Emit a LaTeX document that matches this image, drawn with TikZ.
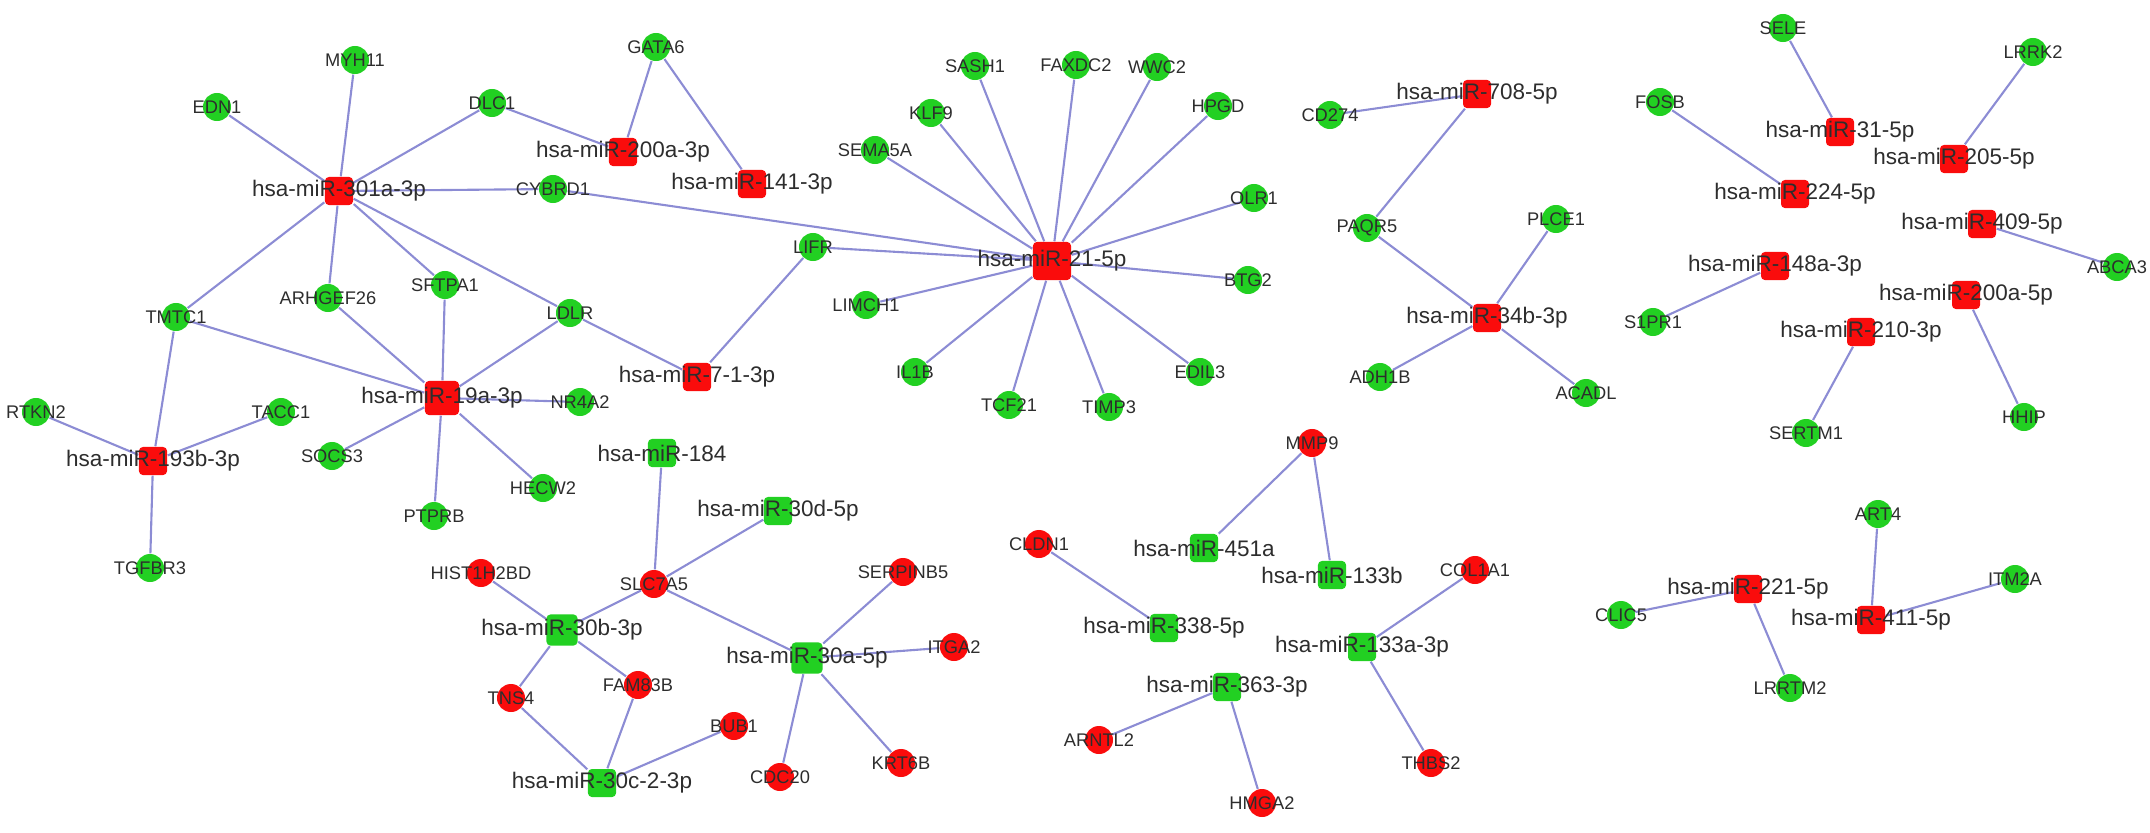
\documentclass[tikz,border=0pt]{standalone}
\usepackage{fontspec}
\setmainfont{Liberation Sans}
\usepackage{tikz}
\usetikzlibrary{backgrounds}
\newcommand*{\nm}[1]{\makebox[0pt]{#1}}
\definecolor{genegreen}{RGB}{34,208,34}
\definecolor{mirred}{RGB}{250,12,12}
\definecolor{linkblue}{RGB}{140,140,212}
\definecolor{labelgray}{RGB}{45,45,45}

\begin{document}
\begin{tikzpicture}[x=0.01cm, y=-0.01cm]
	\tikzstyle{downgene}=[circle, fill=genegreen, minimum size=2.8mm, inner sep=0pt,
	text=labelgray, font=\fontsize{5.2}{6}\selectfont]
	\tikzstyle{upgene}=[downgene, fill=mirred]
	\tikzstyle{upmir}=[rectangle, rounded corners=1.1pt, fill=mirred, minimum size=2.8mm, inner sep=0pt,
	text=labelgray, font=\fontsize{6.4}{7.5}\selectfont]
	\tikzstyle{downmir}=[upmir, fill=genegreen]
	\tikzstyle{link}=[-, line width=0.6pt, draw=linkblue]
	\useasboundingbox (0,0) rectangle (2150,833);

	% down-regulated genes
	\node (EDN1) [downgene] at (217,107) {\nm{EDN1}};
	\node (MYH11) [downgene] at (355,60) {\nm{MYH11}};
	\node (DLC1) [downgene] at (492,103) {\nm{DLC1}};
	\node (CYBRD1) [downgene] at (553,189) {\nm{CYBRD1}};
	\node (ARHGEF26) [downgene] at (328,298) {\nm{ARHGEF26}};
	\node (SFTPA1) [downgene] at (445,285) {\nm{SFTPA1}};
	\node (TMTC1) [downgene] at (176,317) {\nm{TMTC1}};
	\node (LDLR) [downgene] at (570,313) {\nm{LDLR}};
	\node (RTKN2) [downgene] at (36,412) {\nm{RTKN2}};
	\node (TACC1) [downgene] at (281,412) {\nm{TACC1}};
	\node (NR4A2) [downgene] at (580,402) {\nm{NR4A2}};
	\node (SOCS3) [downgene] at (332,456) {\nm{SOCS3}};
	\node (PTPRB) [downgene] at (434,516) {\nm{PTPRB}};
	\node (HECW2) [downgene] at (543,488) {\nm{HECW2}};
	\node (TGFBR3) [downgene] at (150,568) {\nm{TGFBR3}};
	\node (GATA6) [downgene] at (656,47) {\nm{GATA6}};
	\node (SASH1) [downgene] at (975,66) {\nm{SASH1}};
	\node (FAXDC2) [downgene] at (1076,65) {\nm{FAXDC2}};
	\node (KLF9) [downgene] at (931,113) {\nm{KLF9}};
	\node (SEMA5A) [downgene] at (875,150) {\nm{SEMA5A}};
	\node (LIFR) [downgene] at (813,247) {\nm{LIFR}};
	\node (LIMCH1) [downgene] at (866,305) {\nm{LIMCH1}};
	\node (IL1B) [downgene] at (915,372) {\nm{IL1B}};
	\node (TCF21) [downgene] at (1009,405) {\nm{TCF21}};
	\node (TIMP3) [downgene] at (1109,407) {\nm{TIMP3}};
	\node (EDIL3) [downgene] at (1200,372) {\nm{EDIL3}};
	\node (BTG2) [downgene] at (1248,280) {\nm{BTG2}};
	\node (OLR1) [downgene] at (1254,198) {\nm{OLR1}};
	\node (HPGD) [downgene] at (1218,106) {\nm{HPGD}};
	\node (WWC2) [downgene] at (1157,67) {\nm{WWC2}};
	\node (CD274) [downgene] at (1330,115) {\nm{CD274}};
	\node (PAQR5) [downgene] at (1367,228) {\nm{PAQR5}};
	\node (PLCE1) [downgene] at (1556,219) {\nm{PLCE1}};
	\node (ADH1B) [downgene] at (1380,377) {\nm{ADH1B}};
	\node (ACADL) [downgene] at (1586,393) {\nm{ACADL}};
	\node (SELE) [downgene] at (1783,28) {\nm{SELE}};
	\node (LRRK2) [downgene] at (2033,52) {\nm{LRRK2}};
	\node (FOSB) [downgene] at (1660,102) {\nm{FOSB}};
	\node (ABCA3) [downgene] at (2117,267) {\nm{ABCA3}};
	\node (S1PR1) [downgene] at (1653,322) {\nm{S1PR1}};
	\node (HHIP) [downgene] at (2024,417) {\nm{HHIP}};
	\node (SERTM1) [downgene] at (1806,433) {\nm{SERTM1}};
	\node (ART4) [downgene] at (1878,514) {\nm{ART4}};
	\node (ITM2A) [downgene] at (2015,579) {\nm{ITM2A}};
	\node (CLIC5) [downgene] at (1621,615) {\nm{CLIC5}};
	\node (LRRTM2) [downgene] at (1790,688) {\nm{LRRTM2}};

	% up-regulated genes
	\node (HIST1H2BD) [upgene] at (481,573) {\nm{HIST1H2BD}};
	\node (SLC7A5) [upgene] at (654,584) {\nm{SLC7A5}};
	\node (TNS4) [upgene] at (511,698) {\nm{TNS4}};
	\node (FAM83B) [upgene] at (638,685) {\nm{FAM83B}};
	\node (BUB1) [upgene] at (734,726) {\nm{BUB1}};
	\node (CDC20) [upgene] at (780,777) {\nm{CDC20}};
	\node (KRT6B) [upgene] at (901,763) {\nm{KRT6B}};
	\node (ITGA2) [upgene] at (954,647) {\nm{ITGA2}};
	\node (SERPINB5) [upgene] at (903,572) {\nm{SERPINB5}};
	\node (CLDN1) [upgene] at (1039,544) {\nm{CLDN1}};
	\node (MMP9) [upgene] at (1312,443) {\nm{MMP9}};
	\node (COL1A1) [upgene] at (1475,570) {\nm{COL1A1}};
	\node (ARNTL2) [upgene] at (1099,740) {\nm{ARNTL2}};
	\node (HMGA2) [upgene] at (1262,803) {\nm{HMGA2}};
	\node (THBS2) [upgene] at (1431,763) {\nm{THBS2}};

	% up-regulated miRNAs
	\node (mir301a) [upmir] at (339,191) {\nm{hsa-miR-301a-3p}};
	\node (mir200a3) [upmir] at (623,152) {\nm{hsa-miR-200a-3p}};
	\node (mir141) [upmir] at (752,184) {\nm{hsa-miR-141-3p}};
	\node (mir19a) [upmir, minimum size=3.4mm] at (442,398) {\nm{hsa-miR-19a-3p}};
	\node (mir193b) [upmir] at (153,461) {\nm{hsa-miR-193b-3p}};
	\node (mir71) [upmir] at (697,377) {\nm{hsa-miR-7-1-3p}};
	\node (mir21) [upmir, minimum size=3.8mm] at (1052,261) {\nm{hsa-miR-21-5p}};
	\node (mir708) [upmir] at (1477,94) {\nm{hsa-miR-708-5p}};
	\node (mir34b) [upmir] at (1487,318) {\nm{hsa-miR-34b-3p}};
	\node (mir31) [upmir] at (1840,132) {\nm{hsa-miR-31-5p}};
	\node (mir205) [upmir] at (1954,159) {\nm{hsa-miR-205-5p}};
	\node (mir224) [upmir] at (1795,194) {\nm{hsa-miR-224-5p}};
	\node (mir409) [upmir] at (1982,224) {\nm{hsa-miR-409-5p}};
	\node (mir148a) [upmir] at (1775,266) {\nm{hsa-miR-148a-3p}};
	\node (mir200a5) [upmir] at (1966,295) {\nm{hsa-miR-200a-5p}};
	\node (mir210) [upmir] at (1861,332) {\nm{hsa-miR-210-3p}};
	\node (mir221) [upmir] at (1748,589) {\nm{hsa-miR-221-5p}};
	\node (mir411) [upmir] at (1871,620) {\nm{hsa-miR-411-5p}};

	% down-regulated miRNAs
	\node (mir184) [downmir] at (662,453) {\nm{hsa-miR-184}};
	\node (mir30d) [downmir] at (778,511) {\nm{hsa-miR-30d-5p}};
	\node (mir30b) [downmir, minimum size=3.1mm] at (562,630) {\nm{hsa-miR-30b-3p}};
	\node (mir30a) [downmir, minimum size=3.1mm] at (807,658) {\nm{hsa-miR-30a-5p}};
	\node (mir30c) [downmir] at (602,783) {\nm{hsa-miR-30c-2-3p}};
	\node (mir451a) [downmir] at (1204,548) {\nm{hsa-miR-451a}};
	\node (mir133b) [downmir] at (1332,575) {\nm{hsa-miR-133b}};
	\node (mir338) [downmir] at (1164,628) {\nm{hsa-miR-338-5p}};
	\node (mir133a) [downmir] at (1362,647) {\nm{hsa-miR-133a-3p}};
	\node (mir363) [downmir] at (1227,687) {\nm{hsa-miR-363-3p}};

	\begin{pgfonlayer}{background}
	\draw[link] (mir301a) -- (EDN1) (mir301a) -- (MYH11) (mir301a) -- (DLC1) (mir301a) -- (CYBRD1)
	(mir301a) -- (TMTC1) (mir301a) -- (ARHGEF26) (mir301a) -- (SFTPA1) (mir301a) -- (LDLR);
	\draw[link] (mir19a) -- (TMTC1) (mir19a) -- (ARHGEF26) (mir19a) -- (SFTPA1) (mir19a) -- (LDLR)
	(mir19a) -- (NR4A2) (mir19a) -- (SOCS3) (mir19a) -- (PTPRB) (mir19a) -- (HECW2);
	\draw[link] (mir193b) -- (TMTC1) (mir193b) -- (RTKN2) (mir193b) -- (TACC1) (mir193b) -- (TGFBR3);
	\draw[link] (mir200a3) -- (DLC1) (mir200a3) -- (GATA6) (mir141) -- (GATA6);
	\draw[link] (mir71) -- (LDLR) (mir71) -- (LIFR);
	\draw[link] (mir21) -- (LIFR) (mir21) -- (CYBRD1) (mir21) -- (SEMA5A) (mir21) -- (KLF9)
	(mir21) -- (SASH1) (mir21) -- (FAXDC2) (mir21) -- (WWC2) (mir21) -- (HPGD) (mir21) -- (OLR1)
	(mir21) -- (BTG2) (mir21) -- (EDIL3) (mir21) -- (TIMP3) (mir21) -- (TCF21) (mir21) -- (IL1B)
	(mir21) -- (LIMCH1);
	\draw[link] (mir708) -- (CD274) (mir708) -- (PAQR5);
	\draw[link] (mir34b) -- (PAQR5) (mir34b) -- (PLCE1) (mir34b) -- (ADH1B) (mir34b) -- (ACADL);
	\draw[link] (mir31) -- (SELE) (mir205) -- (LRRK2) (mir224) -- (FOSB) (mir409) -- (ABCA3)
	(mir148a) -- (S1PR1) (mir200a5) -- (HHIP) (mir210) -- (SERTM1);
	\draw[link] (mir221) -- (CLIC5) (mir221) -- (LRRTM2) (mir411) -- (ART4) (mir411) -- (ITM2A);
	\draw[link] (mir184) -- (SLC7A5) (mir30d) -- (SLC7A5);
	\draw[link] (mir30b) -- (SLC7A5) (mir30b) -- (HIST1H2BD) (mir30b) -- (TNS4) (mir30b) -- (FAM83B);
	\draw[link] (mir30a) -- (SLC7A5) (mir30a) -- (SERPINB5) (mir30a) -- (ITGA2) (mir30a) -- (KRT6B)
	(mir30a) -- (CDC20);
	\draw[link] (mir30c) -- (TNS4) (mir30c) -- (FAM83B) (mir30c) -- (BUB1);
	\draw[link] (mir451a) -- (MMP9) (mir133b) -- (MMP9) (mir338) -- (CLDN1);
	\draw[link] (mir133a) -- (COL1A1) (mir133a) -- (THBS2) (mir363) -- (ARNTL2) (mir363) -- (HMGA2);
	\end{pgfonlayer}
\end{tikzpicture}
\end{document}
